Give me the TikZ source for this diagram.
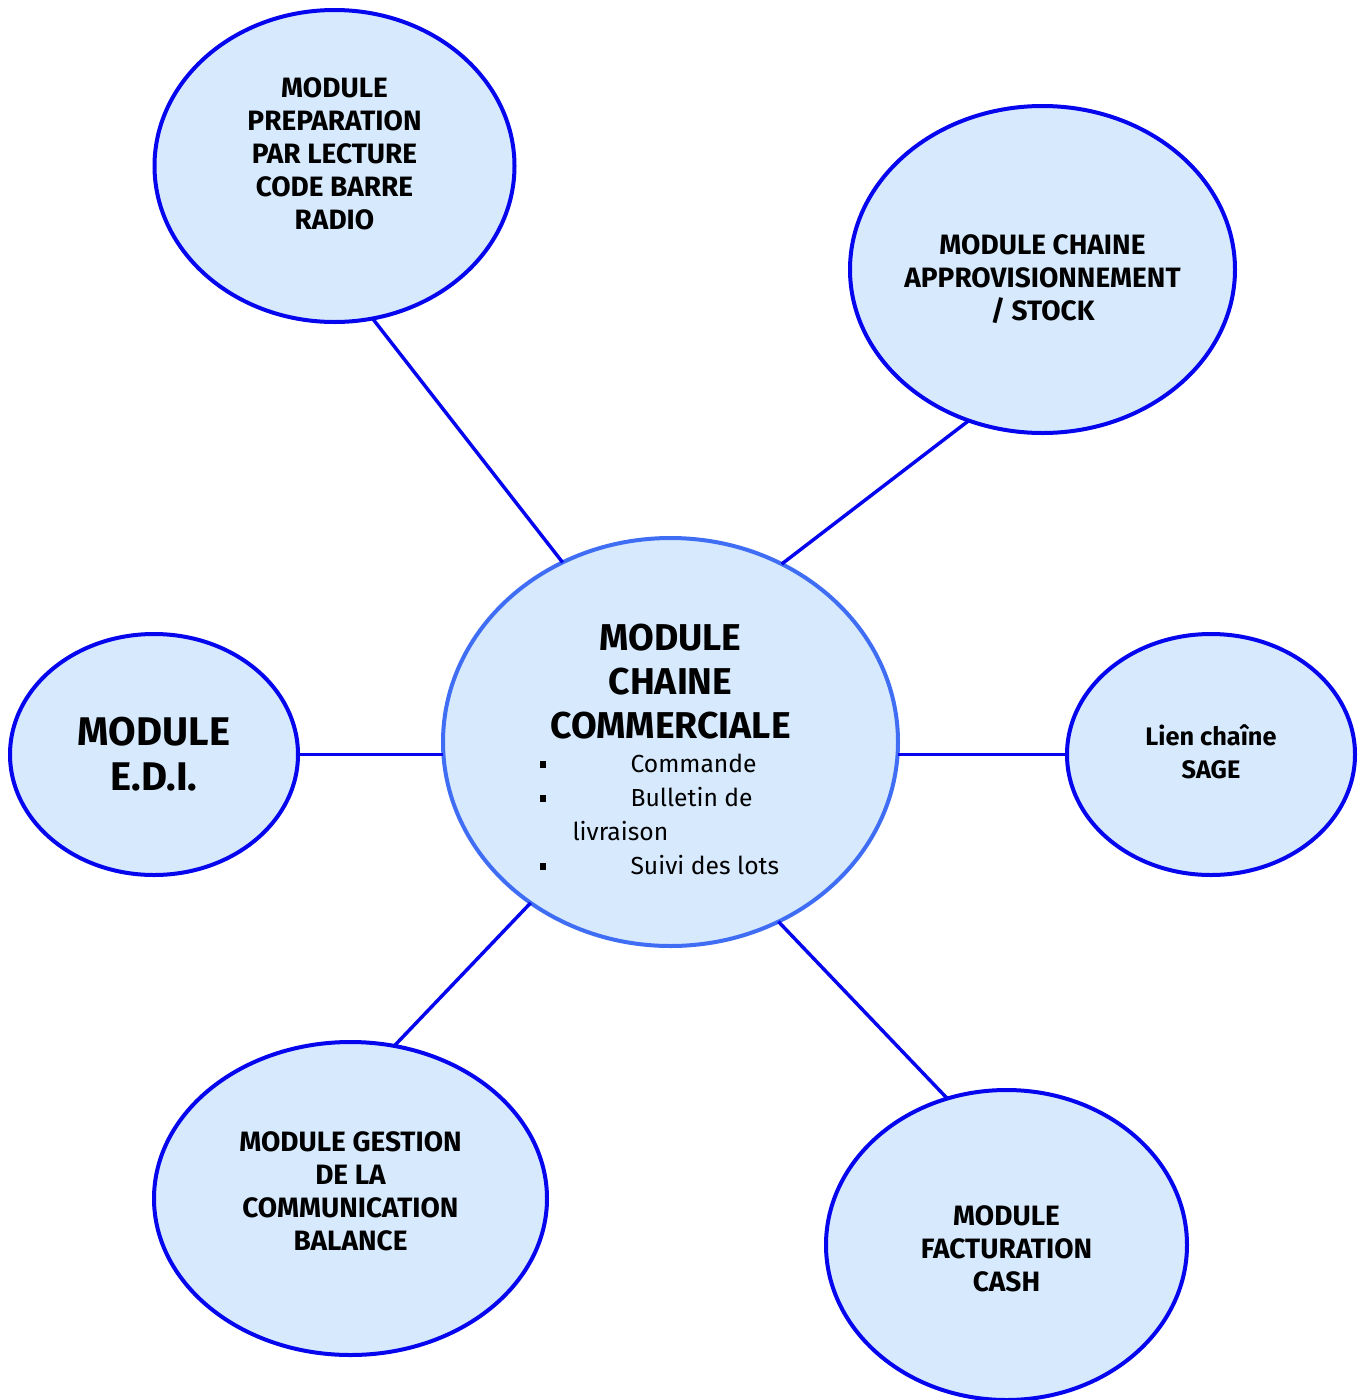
\documentclass[tikz,border=0pt]{standalone}
\usepackage{fontspec}
\setmainfont{Fira Sans}
\usetikzlibrary{shapes.geometric}
\definecolor{fillblue}{HTML}{D6E9FD}
\definecolor{edgeblue}{HTML}{0505EE}
\definecolor{centeredge}{HTML}{3F6EF5}
\newcommand{\bt}[3]{\makebox[0pt]{\raisebox{#1}[0pt][0pt]{\parbox[t]{#2}{\centering #3}}}}
\newcommand{\sq}{\makebox[0pt][l]{\hspace{6.75pt}\raisebox{3pt}{\rule{5pt}{5pt}}}}
\tikzset{
  modbox/.style={ellipse, draw=edgeblue, fill=fillblue, line width=3pt, inner sep=0pt, outer sep=0pt},
  centbox/.style={modbox, draw=centeredge},
  link/.style={draw=edgeblue, line width=2.6pt},
  small/.style={font=\fontsize{21}{24.75}\selectfont\bfseries}
}
\begin{document}
\begin{tikzpicture}[x=0.75pt,y=-0.75pt]
\useasboundingbox (0,0) rectangle (1363,1400);
\node[centbox, minimum width=341.25pt, minimum height=306pt] (c) at (670.5,742)
  {\makebox[0pt]{\raisebox{69pt}[0pt][0pt]{\parbox[t]{210pt}{%
    {\centering\fontsize{28}{33}\selectfont\bfseries MODULE\\CHAINE\\COMMERCIALE\par}%
    \fontsize{18.5}{25.5}\selectfont
    \sq\hspace*{75pt}Commande\\
    \sq\hspace*{75pt}Bulletin de\\
    \hspace*{31.5pt}livraison\\
    \sq\hspace*{75pt}Suivi des lots}}}};
\node[modbox, small, minimum width=270pt, minimum height=234pt] (tl) at (334.5,166)
  {\bt{51.75pt}{200pt}{MODULE\\PREPARATION\\PAR LECTURE\\CODE BARRE\\RADIO}};
\node[modbox, small, minimum width=288.75pt, minimum height=245.25pt] (tr) at (1042.5,269.5)
  {\bt{10.9pt}{240pt}{MODULE CHAINE\\APPROVISIONNEMENT\\/ STOCK}};
\node[modbox, minimum width=216pt, minimum height=180.75pt] (edi) at (154,754.5)
  {\bt{6.4pt}{180pt}{\fontsize{30}{33.75}\selectfont\bfseries MODULE\\E.D.I.}};
\node[modbox, minimum width=216pt, minimum height=180.75pt] (sage) at (1211,754.5)
  {\bt{7.1pt}{180pt}{\fontsize{19}{24.75}\selectfont\bfseries Lien chaîne\\SAGE}};
\node[modbox, small, minimum width=294.75pt, minimum height=234.75pt] (bl) at (350.5,1198.5)
  {\bt{34.9pt}{240pt}{MODULE GESTION\\DE LA\\COMMUNICATION\\BALANCE}};
\node[modbox, small, minimum width=270.75pt, minimum height=232.5pt] (br) at (1006.5,1245)
  {\bt{15pt}{220pt}{MODULE\\FACTURATION\\CASH}};
\draw[link] (tl.-76.8) -- (c.121.1);
\draw[link] (tr.-116) -- (c.58.9);
\draw[link] (edi.east) -- (edi.east -| c.west);
\draw[link] (sage.west) -- (sage.west -| c.east);
\draw[link] (bl.74.1) -- (c.-131.8);
\draw[link] (br.112.5) -- (c.-59.2);
\end{tikzpicture}
\end{document}
